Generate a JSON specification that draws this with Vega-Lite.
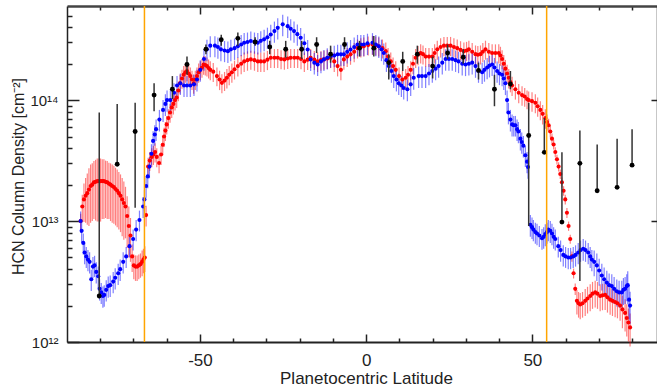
{
  "$schema": "https://vega.github.io/schema/vega-lite/v6.json",
  "width": 590,
  "height": 336,
  "autosize": {"type": "none"},
  "padding": {"left": 67, "top": 6, "right": 0, "bottom": 44},
  "config": {
    "view": {"stroke": null},
    "axis": {"grid": false, "labelFont": "Liberation Sans", "titleFont": "Liberation Sans", "labelColor": "#222", "titleColor": "#222", "titleFontWeight": "normal", "labelOverlap": false, "labelFlush": false, "labelBound": false}
  },
  "datasets": {
    "s": [
      {"s":"R","x":-85.9,"y":1.0e13,"e":1.5e12},{"s":"R","x":-85.4,"y":1.32e13,"e":3.3e12},{"s":"R","x":-84.9,"y":1.51e13,"e":5.3e12},{"s":"R","x":-84.4,"y":1.62e13,"e":6.5e12},{"s":"R","x":-83.9,"y":1.70e13,"e":7.7e12},{"s":"R","x":-83.4,"y":1.82e13,"e":9.1e12},{"s":"R","x":-82.9,"y":1.95e13,"e":9.8e12},{"s":"R","x":-82.4,"y":2.0e13,"e":1.0e13},{"s":"R","x":-81.9,"y":2.09e13,"e":1.05e13},{"s":"R","x":-81.4,"y":2.11e13,"e":1.1e13},{"s":"R","x":-80.9,"y":2.14e13,"e":1.15e13},{"s":"R","x":-80.4,"y":2.14e13,"e":1.15e13},{"s":"R","x":-79.9,"y":2.14e13,"e":1.15e13},{"s":"R","x":-79.4,"y":2.14e13,"e":1.1e13},{"s":"R","x":-78.9,"y":2.14e13,"e":1.1e13},{"s":"R","x":-78.4,"y":2.11e13,"e":1.05e13},{"s":"R","x":-77.9,"y":2.09e13,"e":1.05e13},{"s":"R","x":-77.4,"y":2.04e13,"e":1.0e13},{"s":"R","x":-76.9,"y":2.0e13,"e":1.0e13},{"s":"R","x":-76.4,"y":1.95e13,"e":9.8e12},{"s":"R","x":-75.9,"y":1.91e13,"e":9.6e12},{"s":"R","x":-75.4,"y":1.84e13,"e":9.2e12},{"s":"R","x":-74.9,"y":1.78e13,"e":8.9e12},{"s":"R","x":-74.4,"y":1.70e13,"e":8.5e12},{"s":"R","x":-73.9,"y":1.62e13,"e":8.1e12},{"s":"R","x":-73.4,"y":1.51e13,"e":7.6e12},{"s":"R","x":-72.9,"y":1.41e13,"e":7.1e12},{"s":"R","x":-72.4,"y":1.32e13,"e":6.0e12},{"s":"R","x":-71.9,"y":1.10e13,"e":5.0e12},{"s":"R","x":-71.4,"y":9.1e12,"e":4.1e12},{"s":"R","x":-70.9,"y":7.6e12,"e":3.0e12},{"s":"R","x":-70.4,"y":5.1e12,"e":1.3e12},{"s":"R","x":-69.9,"y":4.3e12,"e":1.0e12},{"s":"R","x":-69.4,"y":4.2e12,"e":1.0e12},{"s":"R","x":-68.9,"y":4.2e12,"e":1.0e12},{"s":"R","x":-68.4,"y":4.3e12,"e":1.0e12},{"s":"R","x":-67.9,"y":4.4e12,"e":1.0e12},{"s":"R","x":-67.4,"y":4.6e12,"e":1.1e12},{"s":"R","x":-67.0,"y":4.8e12,"e":1.1e12},{"s":"R","x":-66.6,"y":5.0e12,"e":1.2e12},{"s":"R","x":-66.2,"y":1.12e13,"e":2.2e12},{"s":"R","x":-65.6,"y":2.82e13,"e":5.1e12},{"s":"R","x":-65.1,"y":3.16e13,"e":5.7e12},{"s":"R","x":-64.5,"y":3.39e13,"e":6.1e12},{"s":"R","x":-64.0,"y":3.55e13,"e":6.4e12},{"s":"R","x":-63.5,"y":3.72e13,"e":6.7e12},{"s":"R","x":-63.0,"y":3.39e13,"e":6.1e12},{"s":"R","x":-62.3,"y":3.02e13,"e":5.4e12},{"s":"R","x":-61.7,"y":3.55e13,"e":6.4e12},{"s":"R","x":-61.2,"y":4.27e13,"e":7.7e12},{"s":"R","x":-60.8,"y":5.0e13,"e":9.0e12},{"s":"R","x":-60.4,"y":5.6e13,"e":1.0e13},{"s":"R","x":-60.0,"y":6.3e13,"e":1.1e13},{"s":"R","x":-59.5,"y":7.1e13,"e":1.3e13},{"s":"R","x":-59.0,"y":7.9e13,"e":1.4e13},{"s":"R","x":-58.5,"y":8.7e13,"e":1.6e13},{"s":"R","x":-58.0,"y":9.3e13,"e":1.7e13},{"s":"R","x":-57.5,"y":1.0e14,"e":1.8e13},{"s":"R","x":-57.0,"y":1.05e14,"e":1.9e13},{"s":"R","x":-56.5,"y":1.20e14,"e":2.2e13},{"s":"R","x":-56.0,"y":1.38e14,"e":2.5e13},{"s":"R","x":-55.4,"y":1.51e14,"e":2.7e13},{"s":"R","x":-54.9,"y":1.62e14,"e":2.9e13},{"s":"R","x":-54.4,"y":1.70e14,"e":3.1e13},{"s":"R","x":-53.9,"y":1.74e14,"e":3.1e13},{"s":"R","x":-53.4,"y":1.66e14,"e":3.0e13},{"s":"R","x":-52.9,"y":1.58e14,"e":2.8e13},{"s":"R","x":-52.4,"y":1.48e14,"e":2.7e13},{"s":"R","x":-51.9,"y":1.38e14,"e":2.5e13},{"s":"R","x":-51.4,"y":1.48e14,"e":2.7e13},{"s":"R","x":-50.9,"y":1.58e14,"e":2.8e13},{"s":"R","x":-50.4,"y":1.70e14,"e":3.1e13},{"s":"R","x":-49.9,"y":1.78e14,"e":3.2e13},{"s":"R","x":-49.4,"y":1.86e14,"e":3.3e13},{"s":"R","x":-48.9,"y":1.97e14,"e":3.5e13},{"s":"R","x":-48.4,"y":1.95e14,"e":3.5e13},{"s":"R","x":-47.9,"y":1.91e14,"e":3.4e13},{"s":"R","x":-47.4,"y":1.84e14,"e":3.3e13},{"s":"R","x":-46.9,"y":1.78e14,"e":3.2e13},{"s":"R","x":-46.0,"y":1.72e14,"e":3.1e13},{"s":"R","x":-44.9,"y":1.58e14,"e":2.8e13},{"s":"R","x":-44.1,"y":1.48e14,"e":2.7e13},{"s":"R","x":-43.4,"y":1.39e14,"e":2.5e13},{"s":"R","x":-42.6,"y":1.45e14,"e":2.6e13},{"s":"R","x":-41.9,"y":1.53e14,"e":2.8e13},{"s":"R","x":-41.2,"y":1.62e14,"e":2.9e13},{"s":"R","x":-40.4,"y":1.70e14,"e":3.1e13},{"s":"R","x":-39.6,"y":1.80e14,"e":3.2e13},{"s":"R","x":-38.6,"y":1.91e14,"e":3.4e13},{"s":"R","x":-37.6,"y":2.0e14,"e":3.6e13},{"s":"R","x":-36.7,"y":2.09e14,"e":3.8e13},{"s":"R","x":-35.7,"y":2.14e14,"e":3.9e13},{"s":"R","x":-34.7,"y":2.17e14,"e":3.9e13},{"s":"R","x":-33.6,"y":2.14e14,"e":3.9e13},{"s":"R","x":-32.6,"y":2.09e14,"e":3.8e13},{"s":"R","x":-31.7,"y":2.09e14,"e":3.8e13},{"s":"R","x":-30.7,"y":2.09e14,"e":3.8e13},{"s":"R","x":-29.7,"y":2.16e14,"e":3.9e13},{"s":"R","x":-28.7,"y":2.24e14,"e":4.0e13},{"s":"R","x":-27.6,"y":2.24e14,"e":4.0e13},{"s":"R","x":-26.6,"y":2.24e14,"e":4.0e13},{"s":"R","x":-25.6,"y":2.19e14,"e":3.9e13},{"s":"R","x":-24.6,"y":2.17e14,"e":3.9e13},{"s":"R","x":-23.6,"y":2.21e14,"e":4.0e13},{"s":"R","x":-22.7,"y":2.24e14,"e":4.0e13},{"s":"R","x":-21.6,"y":2.24e14,"e":4.0e13},{"s":"R","x":-20.6,"y":2.24e14,"e":4.0e13},{"s":"R","x":-19.6,"y":2.19e14,"e":3.9e13},{"s":"R","x":-18.6,"y":2.09e14,"e":3.8e13},{"s":"R","x":-17.6,"y":2.16e14,"e":3.9e13},{"s":"R","x":-16.7,"y":2.24e14,"e":4.0e13},{"s":"R","x":-15.6,"y":2.16e14,"e":3.9e13},{"s":"R","x":-14.6,"y":2.09e14,"e":3.8e13},{"s":"R","x":-13.6,"y":2.14e14,"e":3.9e13},{"s":"R","x":-12.7,"y":2.17e14,"e":3.9e13},{"s":"R","x":-11.7,"y":2.21e14,"e":4.0e13},{"s":"R","x":-10.7,"y":2.24e14,"e":4.0e13},{"s":"R","x":-9.6,"y":2.09e14,"e":3.8e13},{"s":"R","x":-8.6,"y":1.91e14,"e":3.4e13},{"s":"R","x":-7.6,"y":1.78e14,"e":3.2e13},{"s":"R","x":-6.7,"y":2.17e14,"e":3.9e13},{"s":"R","x":-5.7,"y":2.29e14,"e":4.1e13},{"s":"R","x":-4.7,"y":2.39e14,"e":4.3e13},{"s":"R","x":-3.6,"y":2.51e14,"e":4.5e13},{"s":"R","x":-2.6,"y":2.69e14,"e":4.8e13},{"s":"R","x":-1.6,"y":2.75e14,"e":5.0e13},{"s":"R","x":-0.7,"y":2.79e14,"e":5.0e13},{"s":"R","x":0.6,"y":2.85e14,"e":5.1e13},{"s":"R","x":1.9,"y":2.88e14,"e":5.2e13},{"s":"R","x":2.9,"y":2.85e14,"e":5.1e13},{"s":"R","x":3.8,"y":2.79e14,"e":5.0e13},{"s":"R","x":4.9,"y":2.69e14,"e":4.8e13},{"s":"R","x":5.9,"y":2.54e14,"e":4.6e13},{"s":"R","x":6.6,"y":2.29e14,"e":4.1e13},{"s":"R","x":7.4,"y":2.09e14,"e":3.8e13},{"s":"R","x":8.1,"y":1.91e14,"e":3.4e13},{"s":"R","x":8.9,"y":1.78e14,"e":3.2e13},{"s":"R","x":9.9,"y":1.58e14,"e":2.8e13},{"s":"R","x":10.9,"y":1.48e14,"e":2.7e13},{"s":"R","x":11.9,"y":1.53e14,"e":2.8e13},{"s":"R","x":12.6,"y":1.62e14,"e":2.9e13},{"s":"R","x":13.4,"y":1.78e14,"e":3.2e13},{"s":"R","x":14.1,"y":2.0e14,"e":3.6e13},{"s":"R","x":14.9,"y":2.24e14,"e":4.0e13},{"s":"R","x":15.6,"y":2.37e14,"e":4.3e13},{"s":"R","x":16.4,"y":2.45e14,"e":4.4e13},{"s":"R","x":17.1,"y":2.40e14,"e":4.3e13},{"s":"R","x":17.9,"y":2.29e14,"e":4.1e13},{"s":"R","x":18.9,"y":2.29e14,"e":4.1e13},{"s":"R","x":19.9,"y":2.29e14,"e":4.1e13},{"s":"R","x":20.6,"y":2.45e14,"e":4.4e13},{"s":"R","x":21.4,"y":2.63e14,"e":4.7e13},{"s":"R","x":22.4,"y":2.75e14,"e":5.0e13},{"s":"R","x":23.4,"y":2.82e14,"e":5.1e13},{"s":"R","x":24.4,"y":2.82e14,"e":5.1e13},{"s":"R","x":25.4,"y":2.82e14,"e":5.1e13},{"s":"R","x":26.4,"y":2.75e14,"e":5.0e13},{"s":"R","x":27.4,"y":2.69e14,"e":4.8e13},{"s":"R","x":28.4,"y":2.60e14,"e":4.7e13},{"s":"R","x":29.4,"y":2.54e14,"e":4.6e13},{"s":"R","x":30.2,"y":2.57e14,"e":4.6e13},{"s":"R","x":30.9,"y":2.63e14,"e":4.7e13},{"s":"R","x":31.9,"y":2.51e14,"e":4.5e13},{"s":"R","x":32.9,"y":2.40e14,"e":4.3e13},{"s":"R","x":33.6,"y":2.37e14,"e":4.3e13},{"s":"R","x":34.4,"y":2.40e14,"e":4.3e13},{"s":"R","x":35.1,"y":2.51e14,"e":4.5e13},{"s":"R","x":35.9,"y":2.63e14,"e":4.7e13},{"s":"R","x":36.9,"y":2.51e14,"e":4.5e13},{"s":"R","x":37.9,"y":2.45e14,"e":4.4e13},{"s":"R","x":38.9,"y":2.45e14,"e":4.4e13},{"s":"R","x":39.9,"y":2.45e14,"e":4.4e13},{"s":"R","x":40.4,"y":2.34e14,"e":4.2e13},{"s":"R","x":40.9,"y":2.19e14,"e":3.9e13},{"s":"R","x":41.4,"y":2.0e14,"e":3.6e13},{"s":"R","x":41.9,"y":1.82e14,"e":3.3e13},{"s":"R","x":42.4,"y":1.66e14,"e":3.0e13},{"s":"R","x":42.9,"y":1.53e14,"e":2.8e13},{"s":"R","x":43.4,"y":1.41e14,"e":2.5e13},{"s":"R","x":43.9,"y":1.32e14,"e":2.4e13},{"s":"R","x":44.9,"y":1.23e14,"e":2.2e13},{"s":"R","x":45.9,"y":1.15e14,"e":2.1e13},{"s":"R","x":46.9,"y":1.10e14,"e":2.0e13},{"s":"R","x":47.7,"y":1.07e14,"e":1.9e13},{"s":"R","x":48.4,"y":1.02e14,"e":1.8e13},{"s":"R","x":48.9,"y":1.0e14,"e":1.8e13},{"s":"R","x":49.9,"y":9.8e13,"e":1.8e13},{"s":"R","x":50.9,"y":9.5e13,"e":1.7e13},{"s":"R","x":51.6,"y":8.9e13,"e":1.6e13},{"s":"R","x":52.4,"y":8.3e13,"e":1.5e13},{"s":"R","x":53.1,"y":7.7e13,"e":1.4e13},{"s":"R","x":53.9,"y":7.1e13,"e":1.3e13},{"s":"R","x":54.4,"y":6.6e13,"e":1.0e13},{"s":"R","x":54.9,"y":6.2e13,"e":8e12},{"s":"R","x":55.4,"y":5.5e13,"e":6e12},{"s":"R","x":55.9,"y":4.8e13,"e":5e12},{"s":"R","x":56.4,"y":4.3e13,"e":4e12},{"s":"R","x":56.9,"y":3.72e13,"e":3.5e12},{"s":"R","x":57.4,"y":3.24e13,"e":3e12},{"s":"R","x":57.9,"y":2.82e13,"e":2.5e12},{"s":"R","x":58.4,"y":2.45e13,"e":2.2e12},{"s":"R","x":58.9,"y":2.09e13,"e":2e12},{"s":"R","x":59.4,"y":1.78e13,"e":1.6e12},{"s":"R","x":59.9,"y":1.51e13,"e":1.4e12},{"s":"R","x":60.4,"y":1.17e13,"e":1.1e12},{"s":"R","x":60.9,"y":9.1e12,"e":8e11},{"s":"R","x":61.4,"y":7.1e12,"e":6e11},{"s":"R","x":61.9,"y":5.1e12,"e":5e11},{"s":"R","x":62.4,"y":3.7e12,"e":3.5e11},{"s":"R","x":62.9,"y":2.75e12,"e":3e11},{"s":"R","x":63.4,"y":2.19e12,"e":5e11},{"s":"R","x":63.9,"y":2.09e12,"e":5e11},{"s":"R","x":64.4,"y":2.04e12,"e":5e11},{"s":"R","x":65.1,"y":2.09e12,"e":5e11},{"s":"R","x":65.9,"y":2.19e12,"e":5.5e11},{"s":"R","x":66.6,"y":2.29e12,"e":5.7e11},{"s":"R","x":67.4,"y":2.4e12,"e":6e11},{"s":"R","x":68.1,"y":2.51e12,"e":6.3e11},{"s":"R","x":68.9,"y":2.57e12,"e":6.4e11},{"s":"R","x":69.6,"y":2.51e12,"e":6.3e11},{"s":"R","x":70.4,"y":2.4e12,"e":6e11},{"s":"R","x":71.1,"y":2.43e12,"e":6e11},{"s":"R","x":71.9,"y":2.45e12,"e":6.1e11},{"s":"R","x":72.6,"y":2.34e12,"e":5.9e11},{"s":"R","x":73.4,"y":2.24e12,"e":5.6e11},{"s":"R","x":74.1,"y":2.19e12,"e":5.5e11},{"s":"R","x":74.9,"y":2.14e12,"e":5.4e11},{"s":"R","x":75.6,"y":2.09e12,"e":5.2e11},{"s":"R","x":76.4,"y":2.0e12,"e":5.0e11},{"s":"R","x":77.1,"y":1.86e12,"e":5.6e11},{"s":"R","x":77.9,"y":1.74e12,"e":5.2e11},{"s":"R","x":78.4,"y":1.58e12,"e":4.7e11},{"s":"R","x":78.9,"y":1.45e12,"e":4.4e11},{"s":"R","x":79.4,"y":1.32e12,"e":4.0e11},
      {"s":"B","x":-85.9,"y":1.0e13,"e":2.0e12},{"s":"B","x":-85.6,"y":8.3e12,"e":1.7e12},{"s":"B","x":-85.1,"y":6.6e12,"e":1.3e12},{"s":"B","x":-84.7,"y":5.5e12,"e":1.1e12},{"s":"B","x":-84.2,"y":5.1e12,"e":1.0e12},{"s":"B","x":-83.7,"y":4.8e12,"e":9.6e11},{"s":"B","x":-83.2,"y":4.6e12,"e":9.2e11},{"s":"B","x":-82.7,"y":3.3e12,"e":6.6e11},{"s":"B","x":-82.2,"y":4.2e12,"e":8.4e11},{"s":"B","x":-81.7,"y":4.3e12,"e":8.6e11},{"s":"B","x":-81.2,"y":3.8e12,"e":7.6e11},{"s":"B","x":-80.6,"y":3.5e12,"e":7.0e11},{"s":"B","x":-80.2,"y":2.75e12,"e":5.5e11},{"s":"B","x":-79.7,"y":2.57e12,"e":5.1e11},{"s":"B","x":-79.2,"y":2.4e12,"e":4.8e11},{"s":"B","x":-78.8,"y":2.45e12,"e":4.9e11},{"s":"B","x":-78.2,"y":2.7e12,"e":5.4e11},{"s":"B","x":-77.6,"y":2.9e12,"e":5.8e11},{"s":"B","x":-77.0,"y":2.95e12,"e":5.9e11},{"s":"B","x":-76.1,"y":3.16e12,"e":6.3e11},{"s":"B","x":-75.5,"y":3.4e12,"e":6.8e11},{"s":"B","x":-74.6,"y":3.7e12,"e":7.4e11},{"s":"B","x":-74.0,"y":4.0e12,"e":8.0e11},{"s":"B","x":-73.1,"y":4.6e12,"e":9.2e11},{"s":"B","x":-72.2,"y":5.1e12,"e":1.0e12},{"s":"B","x":-71.2,"y":6.2e12,"e":1.2e12},{"s":"B","x":-70.1,"y":7.1e12,"e":1.4e12},{"s":"B","x":-69.2,"y":8.5e12,"e":1.7e12},{"s":"B","x":-68.2,"y":1.02e13,"e":2.0e12},{"s":"B","x":-67.1,"y":1.32e13,"e":2.6e12},{"s":"B","x":-66.7,"y":1.51e13,"e":3.0e12},{"s":"B","x":-66.2,"y":1.95e13,"e":3.9e12},{"s":"B","x":-65.7,"y":2.34e13,"e":4.7e12},{"s":"B","x":-65.2,"y":2.82e13,"e":5.6e12},{"s":"B","x":-64.6,"y":3.6e13,"e":7.2e12},{"s":"B","x":-64.1,"y":4.6e13,"e":9.2e12},{"s":"B","x":-63.6,"y":5.2e13,"e":1.0e13},{"s":"B","x":-63.2,"y":5.75e13,"e":1.15e13},{"s":"B","x":-62.2,"y":6.9e13,"e":1.4e13},{"s":"B","x":-61.1,"y":8.3e13,"e":1.7e13},{"s":"B","x":-60.4,"y":9.3e13,"e":1.9e13},{"s":"B","x":-59.9,"y":1.0e14,"e":2.0e13},{"s":"B","x":-58.9,"y":1.0e14,"e":2.0e13},{"s":"B","x":-57.8,"y":1.15e14,"e":2.3e13},{"s":"B","x":-56.9,"y":1.32e14,"e":2.6e13},{"s":"B","x":-55.9,"y":1.38e14,"e":2.8e13},{"s":"B","x":-54.8,"y":1.32e14,"e":2.6e13},{"s":"B","x":-53.9,"y":1.32e14,"e":2.6e13},{"s":"B","x":-52.9,"y":1.32e14,"e":2.6e13},{"s":"B","x":-51.8,"y":1.35e14,"e":2.7e13},{"s":"B","x":-50.9,"y":1.48e14,"e":3.0e13},{"s":"B","x":-49.9,"y":1.78e14,"e":3.6e13},{"s":"B","x":-48.8,"y":2.19e14,"e":4.4e13},{"s":"B","x":-47.9,"y":2.63e14,"e":5.3e13},{"s":"B","x":-46.9,"y":2.82e14,"e":5.6e13},{"s":"B","x":-45.5,"y":2.82e14,"e":5.6e13},{"s":"B","x":-44.6,"y":2.75e14,"e":5.5e13},{"s":"B","x":-43.7,"y":2.63e14,"e":5.3e13},{"s":"B","x":-42.6,"y":2.57e14,"e":5.1e13},{"s":"B","x":-41.6,"y":2.54e14,"e":5.1e13},{"s":"B","x":-40.7,"y":2.63e14,"e":5.3e13},{"s":"B","x":-39.6,"y":2.69e14,"e":5.4e13},{"s":"B","x":-38.6,"y":2.79e14,"e":5.6e13},{"s":"B","x":-37.6,"y":2.88e14,"e":5.8e13},{"s":"B","x":-36.7,"y":2.98e14,"e":6.0e13},{"s":"B","x":-35.7,"y":3.02e14,"e":6.0e13},{"s":"B","x":-34.7,"y":3.08e14,"e":6.2e13},{"s":"B","x":-33.6,"y":3.02e14,"e":6.0e13},{"s":"B","x":-32.6,"y":2.98e14,"e":6.0e13},{"s":"B","x":-31.7,"y":3.09e14,"e":6.2e13},{"s":"B","x":-30.7,"y":3.18e14,"e":6.4e13},{"s":"B","x":-29.7,"y":3.31e14,"e":6.6e13},{"s":"B","x":-28.7,"y":3.49e14,"e":7.0e13},{"s":"B","x":-27.6,"y":3.72e14,"e":7.4e13},{"s":"B","x":-26.6,"y":3.96e14,"e":7.9e13},{"s":"B","x":-25.1,"y":4.23e14,"e":8.5e13},{"s":"B","x":-23.6,"y":4.09e14,"e":8.2e13},{"s":"B","x":-22.7,"y":3.89e14,"e":7.8e13},{"s":"B","x":-21.7,"y":3.72e14,"e":7.4e13},{"s":"B","x":-20.7,"y":3.51e14,"e":7.0e13},{"s":"B","x":-19.7,"y":3.28e14,"e":6.6e13},{"s":"B","x":-18.6,"y":2.95e14,"e":5.9e13},{"s":"B","x":-17.6,"y":2.62e14,"e":5.2e13},{"s":"B","x":-16.7,"y":2.17e14,"e":4.3e13},{"s":"B","x":-15.6,"y":2.04e14,"e":4.1e13},{"s":"B","x":-14.6,"y":1.97e14,"e":3.9e13},{"s":"B","x":-13.6,"y":2.09e14,"e":4.2e13},{"s":"B","x":-12.7,"y":2.17e14,"e":4.3e13},{"s":"B","x":-11.7,"y":2.24e14,"e":4.5e13},{"s":"B","x":-10.7,"y":2.31e14,"e":4.6e13},{"s":"B","x":-9.6,"y":2.34e14,"e":4.7e13},{"s":"B","x":-8.6,"y":2.39e14,"e":4.8e13},{"s":"B","x":-7.6,"y":2.39e14,"e":4.8e13},{"s":"B","x":-6.7,"y":2.39e14,"e":4.8e13},{"s":"B","x":-5.7,"y":2.51e14,"e":5.0e13},{"s":"B","x":-4.7,"y":2.62e14,"e":5.2e13},{"s":"B","x":-3.6,"y":2.75e14,"e":5.5e13},{"s":"B","x":-2.6,"y":2.88e14,"e":5.8e13},{"s":"B","x":-1.6,"y":2.88e14,"e":5.8e13},{"s":"B","x":-0.7,"y":2.88e14,"e":5.8e13},{"s":"B","x":0.4,"y":2.95e14,"e":5.9e13},{"s":"B","x":1.9,"y":2.98e14,"e":6.0e13},{"s":"B","x":2.9,"y":2.88e14,"e":5.8e13},{"s":"B","x":3.8,"y":2.79e14,"e":5.6e13},{"s":"B","x":4.6,"y":2.63e14,"e":5.3e13},{"s":"B","x":5.3,"y":2.45e14,"e":4.9e13},{"s":"B","x":6.1,"y":2.14e14,"e":4.3e13},{"s":"B","x":6.8,"y":1.91e14,"e":3.8e13},{"s":"B","x":7.6,"y":1.74e14,"e":3.5e13},{"s":"B","x":8.3,"y":1.58e14,"e":3.2e13},{"s":"B","x":9.1,"y":1.48e14,"e":3.0e13},{"s":"B","x":9.8,"y":1.38e14,"e":2.8e13},{"s":"B","x":10.6,"y":1.32e14,"e":2.6e13},{"s":"B","x":11.3,"y":1.26e14,"e":2.5e13},{"s":"B","x":12.4,"y":1.23e14,"e":2.5e13},{"s":"B","x":13.4,"y":1.35e14,"e":2.7e13},{"s":"B","x":14.3,"y":1.53e14,"e":3.1e13},{"s":"B","x":15.8,"y":1.58e14,"e":3.2e13},{"s":"B","x":16.8,"y":1.58e14,"e":3.2e13},{"s":"B","x":17.9,"y":1.58e14,"e":3.2e13},{"s":"B","x":18.9,"y":1.66e14,"e":3.3e13},{"s":"B","x":19.9,"y":1.74e14,"e":3.5e13},{"s":"B","x":20.9,"y":1.82e14,"e":3.6e13},{"s":"B","x":21.8,"y":1.91e14,"e":3.8e13},{"s":"B","x":22.9,"y":2.04e14,"e":4.1e13},{"s":"B","x":23.9,"y":2.19e14,"e":4.4e13},{"s":"B","x":24.9,"y":2.19e14,"e":4.4e13},{"s":"B","x":25.9,"y":2.19e14,"e":4.4e13},{"s":"B","x":26.9,"y":2.14e14,"e":4.3e13},{"s":"B","x":27.8,"y":2.09e14,"e":4.2e13},{"s":"B","x":28.9,"y":2.0e14,"e":4.0e13},{"s":"B","x":29.9,"y":1.97e14,"e":3.9e13},{"s":"B","x":30.9,"y":2.0e14,"e":4.0e13},{"s":"B","x":31.9,"y":2.04e14,"e":4.1e13},{"s":"B","x":32.9,"y":1.91e14,"e":3.8e13},{"s":"B","x":33.8,"y":1.74e14,"e":3.5e13},{"s":"B","x":34.9,"y":1.70e14,"e":3.4e13},{"s":"B","x":35.6,"y":1.78e14,"e":3.6e13},{"s":"B","x":36.4,"y":1.86e14,"e":3.7e13},{"s":"B","x":37.1,"y":1.93e14,"e":3.9e13},{"s":"B","x":37.9,"y":1.97e14,"e":3.9e13},{"s":"B","x":38.6,"y":1.86e14,"e":3.7e13},{"s":"B","x":39.4,"y":1.74e14,"e":3.5e13},{"s":"B","x":40.1,"y":1.66e14,"e":3.3e13},{"s":"B","x":40.9,"y":1.62e14,"e":3.2e13},{"s":"B","x":41.4,"y":1.51e14,"e":3.0e13},{"s":"B","x":41.9,"y":1.38e14,"e":2.8e13},{"s":"B","x":42.4,"y":1.0e14,"e":2.0e13},{"s":"B","x":42.8,"y":7.9e13,"e":1.6e13},{"s":"B","x":43.4,"y":6.9e13,"e":1.4e13},{"s":"B","x":43.9,"y":6.3e13,"e":1.3e13},{"s":"B","x":44.4,"y":6.2e13,"e":1.2e13},{"s":"B","x":44.9,"y":6.2e13,"e":1.2e13},{"s":"B","x":45.4,"y":5.75e13,"e":1.15e13},{"s":"B","x":45.8,"y":5.5e13,"e":1.1e13},{"s":"B","x":46.4,"y":4.8e13,"e":9.6e12},{"s":"B","x":46.8,"y":4.5e13,"e":9.0e12},{"s":"B","x":47.3,"y":4.2e13,"e":8.4e12},{"s":"B","x":47.9,"y":3.5e13,"e":7.0e12},{"s":"B","x":48.4,"y":3.1e13,"e":6.2e12},{"s":"B","x":48.7,"y":2.8e13,"e":5.6e12},{"s":"B","x":49.4,"y":9.3e12,"e":1.9e12},{"s":"B","x":49.9,"y":8.9e12,"e":1.8e12},{"s":"B","x":50.3,"y":8.5e12,"e":1.7e12},{"s":"B","x":50.9,"y":8.1e12,"e":1.6e12},{"s":"B","x":51.4,"y":7.9e12,"e":1.6e12},{"s":"B","x":52.1,"y":7.6e12,"e":1.5e12},{"s":"B","x":52.9,"y":7.2e12,"e":1.4e12},{"s":"B","x":53.4,"y":7.4e12,"e":1.5e12},{"s":"B","x":53.9,"y":7.8e12,"e":1.6e12},{"s":"B","x":54.4,"y":8.1e12,"e":1.6e12},{"s":"B","x":54.8,"y":8.5e12,"e":1.7e12},{"s":"B","x":55.4,"y":8.3e12,"e":1.7e12},{"s":"B","x":55.9,"y":7.9e12,"e":1.6e12},{"s":"B","x":56.4,"y":7.4e12,"e":1.5e12},{"s":"B","x":56.9,"y":7.1e12,"e":1.4e12},{"s":"B","x":57.8,"y":6.2e12,"e":1.2e12},{"s":"B","x":58.5,"y":5.75e12,"e":1.15e12},{"s":"B","x":59.3,"y":5.25e12,"e":1.05e12},{"s":"B","x":60.0,"y":5.1e12,"e":1.0e12},{"s":"B","x":60.8,"y":5.0e12,"e":1.0e12},{"s":"B","x":61.5,"y":5.0e12,"e":1.0e12},{"s":"B","x":62.3,"y":5.1e12,"e":1.0e12},{"s":"B","x":63.0,"y":5.25e12,"e":1.05e12},{"s":"B","x":63.8,"y":5.5e12,"e":1.1e12},{"s":"B","x":64.5,"y":5.75e12,"e":1.15e12},{"s":"B","x":65.3,"y":5.9e12,"e":1.2e12},{"s":"B","x":66.0,"y":5.75e12,"e":1.15e12},{"s":"B","x":66.8,"y":5.5e12,"e":1.1e12},{"s":"B","x":67.4,"y":5.1e12,"e":1.0e12},{"s":"B","x":67.9,"y":4.8e12,"e":9.6e11},{"s":"B","x":68.6,"y":4.6e12,"e":1.1e12},{"s":"B","x":69.4,"y":4.3e12,"e":1.1e12},{"s":"B","x":70.1,"y":3.9e12,"e":9.8e11},{"s":"B","x":70.9,"y":3.55e12,"e":8.9e11},{"s":"B","x":71.6,"y":3.3e12,"e":8.3e11},{"s":"B","x":72.4,"y":3.1e12,"e":7.8e11},{"s":"B","x":73.1,"y":2.95e12,"e":7.4e11},{"s":"B","x":73.9,"y":2.9e12,"e":7.3e11},{"s":"B","x":74.6,"y":2.75e12,"e":6.9e11},{"s":"B","x":75.4,"y":2.63e12,"e":6.6e11},{"s":"B","x":76.1,"y":2.57e12,"e":6.4e11},{"s":"B","x":76.9,"y":2.57e12,"e":6.4e11},{"s":"B","x":77.4,"y":2.7e12,"e":6.8e11},{"s":"B","x":77.9,"y":2.75e12,"e":6.9e11},{"s":"B","x":78.4,"y":2.9e12,"e":7.3e11},{"s":"B","x":78.7,"y":2.95e12,"e":9e11},{"s":"B","x":79.1,"y":2.24e12,"e":7e11},{"s":"B","x":79.4,"y":2.0e12,"e":6e11}
    ],
    "k": [
      {"x":-80.3,"y":2.4e12,"lo":2.3e12,"hi":7.9e13},{"x":-74.9,"y":2.95e13,"lo":2.95e13,"hi":9.3e13},{"x":-69.5,"y":5.5e13,"lo":1.29e13,"hi":9.5e13},{"x":-63.8,"y":1.10e14,"lo":8.1e13,"hi":1.38e14},{"x":-58.3,"y":1.23e14,"lo":1.02e14,"hi":1.58e14},{"x":-53.9,"y":1.97e14,"lo":1.62e14,"hi":2.29e14},{"x":-48.2,"y":2.63e14,"lo":2.4e14,"hi":2.88e14},{"x":-43.6,"y":3.16e14,"lo":2.82e14,"hi":3.47e14},{"x":-38.6,"y":3.24e14,"lo":2.82e14,"hi":3.63e14},{"x":-33.4,"y":3.02e14,"lo":2.82e14,"hi":3.31e14},{"x":-29.0,"y":2.75e14,"lo":2.4e14,"hi":3.09e14},{"x":-24.2,"y":2.63e14,"lo":2.24e14,"hi":3.09e14},{"x":-19.4,"y":2.63e14,"lo":2.19e14,"hi":3.09e14},{"x":-14.9,"y":2.88e14,"lo":2.45e14,"hi":3.31e14},{"x":-10.7,"y":2.40e14,"lo":2.04e14,"hi":2.82e14},{"x":-6.5,"y":2.88e14,"lo":2.63e14,"hi":3.31e14},{"x":-2.0,"y":2.69e14,"lo":2.29e14,"hi":3.09e14},{"x":2.3,"y":2.69e14,"lo":2.29e14,"hi":3.39e14},{"x":6.8,"y":2.04e14,"lo":1.48e14,"hi":2.40e14},{"x":11.0,"y":2.09e14,"lo":1.74e14,"hi":2.51e14},{"x":15.4,"y":2.40e14,"lo":2.0e14,"hi":2.82e14},{"x":20.0,"y":1.91e14,"lo":1.51e14,"hi":2.29e14},{"x":24.5,"y":2.45e14,"lo":2.19e14,"hi":2.88e14},{"x":29.2,"y":2.26e14,"lo":2.0e14,"hi":2.63e14},{"x":33.8,"y":1.76e14,"lo":1.48e14,"hi":2.04e14},{"x":38.6,"y":1.23e14,"lo":8.9e13,"hi":1.62e14},{"x":43.4,"y":1.36e14,"lo":1.23e14,"hi":1.74e14},{"x":48.9,"y":5.1e13,"lo":9.1e12,"hi":9.5e13},{"x":53.6,"y":3.7e13,"lo":3.7e13,"hi":7.1e13},{"x":58.9,"y":9.8e12,"lo":9.8e12,"hi":3.7e13},{"x":64.3,"y":3.0e13,"lo":3.2e12,"hi":5.6e13},{"x":69.5,"y":1.78e13,"lo":1.78e13,"hi":4.3e13},{"x":75.5,"y":1.9e13,"lo":1.9e13,"hi":4.8e13},{"x":80.0,"y":2.9e13,"lo":2.9e13,"hi":5.75e13}
    ],
    "o": [{"x":-66.7},{"x":54.3}]
  },
  "resolve": {"axis": {"x": "independent", "y": "independent"}},
  "layer": [
    {
      "data": {"name": "s"},
      "mark": {"type": "errorbar", "rule": {"strokeWidth": 1.2, "opacity": 0.5}},
      "encoding": {
        "x": {"field": "x", "type": "quantitative", "scale": {"domain": [-90, 87.5], "nice": false, "zero": false},
          "axis": {"orient": "bottom", "values": [-80,-70,-60,-50,-40,-30,-20,-10,0,10,20,30,40,50,60,70,80],
            "labelExpr": "datum.value % 50 === 0 ? '' + datum.value : ''",
            "tickSize": {"condition": {"test": "datum.value % 50 === 0", "value": -8}, "value": -4},
            "tickWidth": 1.5, "tickColor": "#222", "domainColor": "#222", "domainWidth": 2,
            "labelFontSize": 17, "labelPadding": 18,
            "title": "Planetocentric Latitude", "titleFontSize": 17, "titleX": 299, "titleY": 36, "titleBaseline": "middle"}},
        "y": {"field": "y", "type": "quantitative", "scale": {"type": "log", "domain": [1e12, 6e14], "nice": false},
          "axis": {"orient": "left", "values": [1e12,2e12,3e12,4e12,5e12,6e12,7e12,8e12,9e12,1e13,2e13,3e13,4e13,5e13,6e13,7e13,8e13,9e13,1e14,2e14,3e14,4e14,5e14],
            "labelExpr": "datum.value === 1e12 ? '10¹²' : datum.value === 1e13 ? '10¹³' : datum.value === 1e14 ? '10¹⁴' : ''",
            "tickSize": {"condition": {"test": "datum.value === 1e12 || datum.value === 1e13 || datum.value === 1e14", "value": -12}, "value": -5},
            "tickWidth": 1.5, "tickColor": "#222", "domainColor": "#222", "domainWidth": 1.5,
            "labelFontSize": 15, "labelPadding": 21, "labelBaseline": "middle",
            "title": "HCN Column Density [cm⁻²]", "titleFontSize": 16, "titleX": -49, "titleY": 170, "titleBaseline": "middle", "titleAngle": 270}},
        "yError": {"field": "e"},
        "color": {"field": "s", "type": "nominal", "scale": {"domain": ["R", "B"], "range": ["#ff0000", "#0000ff"]}, "legend": null}
      }
    },
    {
      "data": {"name": "s"},
      "mark": {"type": "point", "filled": true, "size": 17, "opacity": 1},
      "encoding": {
        "x": {"field": "x", "type": "quantitative", "scale": {"domain": [-90, 87.5], "nice": false, "zero": false}, "axis": null},
        "y": {"field": "y", "type": "quantitative", "scale": {"type": "log", "domain": [1e12, 6e14], "nice": false}, "axis": null},
        "color": {"field": "s", "type": "nominal", "scale": {"domain": ["R", "B"], "range": ["#ff0000", "#0000ff"]}, "legend": null}
      }
    },
    {
      "data": {"name": "k"},
      "mark": {"type": "rule", "color": "#333333", "strokeWidth": 1.5},
      "encoding": {
        "x": {"field": "x", "type": "quantitative", "scale": {"domain": [-90, 87.5], "nice": false, "zero": false},
          "axis": {"orient": "top", "values": [-80,-70,-60,-50,-40,-30,-20,-10,0,10,20,30,40,50,60,70,80], "labels": false, "title": null,
            "tickSize": {"condition": {"test": "datum.value % 50 === 0", "value": -8}, "value": -4},
            "tickWidth": 1.5, "tickColor": "#222", "domainColor": "#444", "domainWidth": 2.5}},
        "y": {"field": "lo", "type": "quantitative", "scale": {"type": "log", "domain": [1e12, 6e14], "nice": false},
          "axis": {"orient": "right", "values": [1e13, 1e14], "labels": false, "title": null, "tickSize": -6, "tickWidth": 1.5, "tickColor": "#222", "domainColor": "#222", "domainWidth": 1.5}},
        "y2": {"field": "hi"}
      }
    },
    {
      "data": {"name": "k"},
      "mark": {"type": "point", "filled": true, "size": 24, "color": "#000000", "opacity": 1},
      "encoding": {
        "x": {"field": "x", "type": "quantitative", "scale": {"domain": [-90, 87.5], "nice": false, "zero": false}, "axis": null},
        "y": {"field": "y", "type": "quantitative", "scale": {"type": "log", "domain": [1e12, 6e14], "nice": false}, "axis": null}
      }
    },
    {
      "data": {"name": "o"},
      "mark": {"type": "rule", "color": "#FFA500", "strokeWidth": 1.5},
      "encoding": {
        "x": {"field": "x", "type": "quantitative", "scale": {"domain": [-90, 87.5], "nice": false, "zero": false}, "axis": null}
      }
    }
  ]
}
